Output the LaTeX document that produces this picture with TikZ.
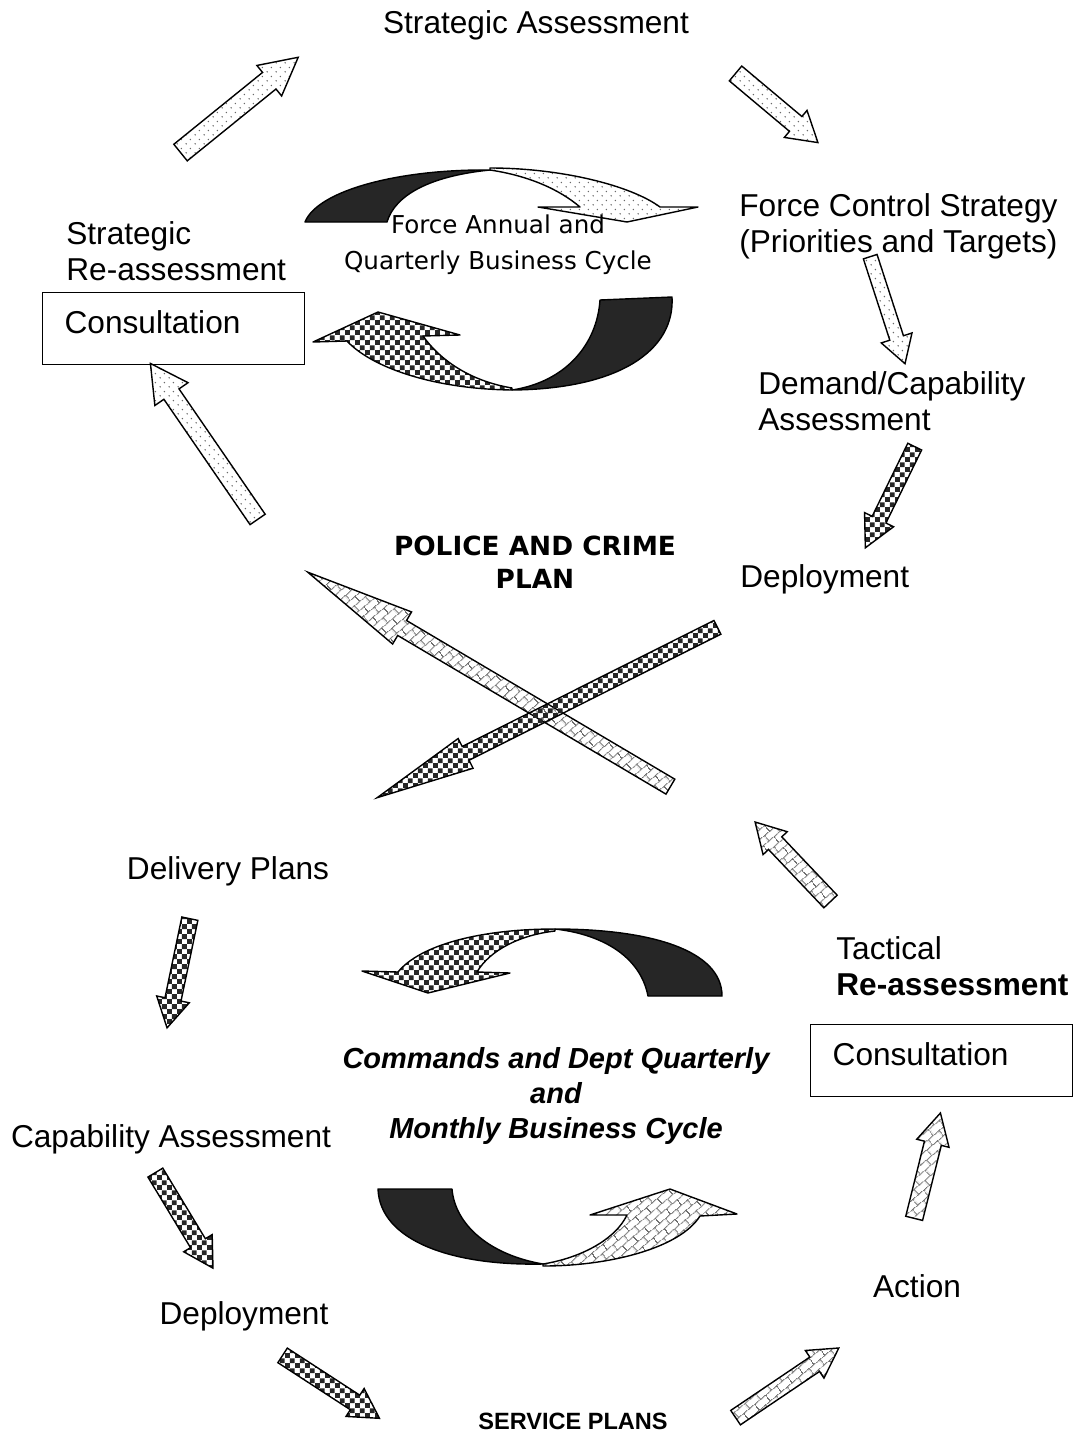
\documentclass[tikz,border=0pt]{standalone}
\usepackage{fontspec}
\setmainfont{Liberation Sans}
\newfontfamily\cyclefont{DejaVu Sans}
\usetikzlibrary{shapes.arrows,patterns.meta}

\definecolor{shade}{HTML}{262626}
\definecolor{dotgray}{HTML}{6A6A6A}
\definecolor{brickgray}{HTML}{707070}

\tikzdeclarepattern{
  name=sprinkle,
  type=uncolored,
  bottom left={(0pt,0pt)},
  top right={(5pt,5pt)},
  tile size={(5pt,5pt)},
  code={
    \fill (1.25pt,1.25pt) circle (0.45pt);
    \fill (3.75pt,3.75pt) circle (0.45pt);
  }
}
\tikzdeclarepattern{
  name=checker,
  type=uncolored,
  bottom left={(0pt,0pt)},
  top right={(5.6pt,5.6pt)},
  tile size={(5.6pt,5.6pt)},
  code={
    \fill (0pt,0pt) rectangle (2.8pt,2.8pt);
    \fill (2.8pt,2.8pt) rectangle (5.6pt,5.6pt);
  }
}
\tikzdeclarepattern{
  name=brickwall,
  type=uncolored,
  bottom left={(0pt,0pt)},
  top right={(8pt,8pt)},
  tile size={(8pt,8pt)},
  tile transformation={rotate=40},
  code={
    \draw[line width=0.55pt] (0pt,1pt) -- (8pt,1pt) (0pt,5pt) -- (8pt,5pt)
      (1pt,1pt) -- (1pt,5pt) (5pt,5pt) -- (5pt,8pt) (5pt,0pt) -- (5pt,1pt);
  }
}

\tikzset{
  txt/.style={font=\fontsize{18}{20.5}\selectfont, inner sep=0pt, align=left},
  cycletxt/.style={font=\cyclefont\fontsize{14}{20.4}\selectfont, inner sep=0pt, align=center},
  plantxt/.style={font=\cyclefont\bfseries\fontsize{15}{18.7}\selectfont, inner sep=0pt, align=center},
  cmdtxt/.style={font=\bfseries\itshape\fontsize{16.5}{19.8}\selectfont, inner sep=0pt, align=center},
  servtxt/.style={font=\bfseries\fontsize{13.4}{15}\selectfont, inner sep=0pt},
  consbox/.style={draw, line width=0.8pt, anchor=north west, font=\fontsize{18}{20.5}\selectfont,
    minimum width=149.1pt, minimum height=41pt, text width=124.1pt, inner xsep=12.5pt,
    inner ysep=0pt, text depth=7.4pt, align=left},
  blockarrow/.style n args={5}{single arrow, draw, line width=0.8pt, inner xsep=0pt,
    inner ysep=#3*0.2835pt, anchor=tail, rotate=#1, minimum height=#2*0.5669pt,
    single arrow head extend=(#4-#3)/2*0.5669pt, single arrow tip angle=#5},
  band/.style={draw, line width=0.8pt, line join=round},
  dark/.style={band, fill=shade},
}

\begin{document}
\begin{tikzpicture}[x=0.02cm, y=-0.02cm]
  \useasboundingbox (0,0) rectangle (1077,1437);

  % Upper cycle: strategic level
  \node[txt] (stratass) at (536,25) {Strategic Assessment};
  \node[txt, anchor=west] (stratre) at (66,251) {Strategic\\Re-assessment};
  \node[consbox] (consult1) at (42,292) {Consultation};
  \node[txt, anchor=west] (fcs) at (739,226) {Force Control Strategy\\(Priorities and Targets)};
  \node[txt, anchor=west] (demand) at (758,401) {Demand/Capability\\Assessment};
  \node[txt, anchor=west] (deploy1) at (740,579) {Deployment};
  \node[plantxt] (pcp) at (535,562) {POLICE AND CRIME\\PLAN};

  \node[blockarrow={39}{152}{20}{38}{55.6}, pattern=sprinkle, pattern color=dotgray] (up1) at (180,153) {};
  \node[blockarrow={-40}{108}{18}{34}{62.5}, pattern=sprinkle, pattern color=dotgray] (up2) at (735,73) {};
  \node[blockarrow={-72}{113}{13}{31}{61.6}, pattern=sprinkle, pattern color=dotgray] (up3) at (870,256) {};
  \node[blockarrow={-116}{113}{14}{31}{54.6}, pattern=checker, pattern color=shade] (up4) at (915,446) {};
  \node[blockarrow={124.5}{190}{17}{39}{56.9}, pattern=sprinkle, pattern color=dotgray] (up5) at (258,520) {};

  % Force annual cycle (curved arrows)
  \path[dark] (305,222) -- (387,222) .. controls (395,195) and (430,176) .. (490,170)
    .. controls (400,169) and (318,190) .. (305,222) -- cycle;
  \path[band, pattern=sprinkle, pattern color=dotgray] (490,168) .. controls (560,168) and (630,185) .. (660,207)
    -- (698,207) -- (627,222) -- (538,207) -- (580,207)
    .. controls (560,190) and (530,176) .. (490,170) -- cycle;
  \path[dark] (600,300) -- (672,297) .. controls (675,350) and (620,389) .. (512,390)
    .. controls (565,382) and (597,345) .. (600,300) -- cycle;
  \path[band, pattern=checker, pattern color=shade] (512,390) .. controls (430,389) and (370,366) .. (347,341)
    -- (313,342) -- (378,312) -- (460,335) -- (423,336)
    .. controls (440,360) and (470,381) .. (512,388) -- cycle;
  \node[cycletxt] (forcecycle) at (498,245) {Force Annual and\\Quarterly Business Cycle};

  % Crossing arrows between the two cycles
  \node[blockarrow={149.4}{423}{16}{36}{19.3}, pattern=brickwall, pattern color=brickgray] (cross1) at (671,787) {};
  \node[blockarrow={-153.4}{382}{14}{32}{19.1}, pattern=checker, pattern color=shade] (cross2) at (718,627) {};

  % Lower cycle: commands and departments
  \node[txt] (delivery) at (228,871) {Delivery Plans};
  \node[txt] (capass) at (171,1139) {Capability Assessment};
  \node[txt] (deploy2) at (244,1316) {Deployment};
  \node[servtxt] (service) at (573,1421) {SERVICE PLANS};
  \node[txt] (action) at (917,1286) {Action};
  \node[txt, anchor=west] (tactical) at (836,966) {Tactical\\\textbf{Re-assessment}};
  \node[consbox] (consult2) at (810,1024) {Consultation};
  \node[cmdtxt] (cmdcycle) at (556,1096) {Commands and Dept Quarterly\\and\\Monthly Business Cycle};

  \node[blockarrow={133.5}{110}{17}{32}{59.5}, pattern=brickwall, pattern color=brickgray] (lo1) at (831,902) {};
  \node[blockarrow={76}{109}{16}{32}{56.1}, pattern=brickwall, pattern color=brickgray] (lo2) at (914,1219) {};
  \node[blockarrow={-101.8}{112}{15}{32}{59.5}, pattern=checker, pattern color=shade] (lo3) at (190,918) {};
  \node[blockarrow={-58.9}{112}{16}{32}{59.5}, pattern=checker, pattern color=shade] (lo4) at (155,1172) {};
  \node[blockarrow={-33}{116}{16}{32}{59.5}, pattern=checker, pattern color=shade] (lo5) at (282,1355) {};
  \node[blockarrow={34}{125}{16}{32}{59.5}, pattern=brickwall, pattern color=brickgray] (lo6) at (735,1418) {};

  % Commands cycle (curved arrows)
  \path[dark] (648,996) -- (722,996) .. controls (722,950) and (650,929) .. (555,929)
    .. controls (600,934) and (640,955) .. (648,996) -- cycle;
  \path[band, pattern=checker, pattern color=shade] (555,929) .. controls (480,929) and (420,945) .. (398,972)
    -- (362,971) -- (428,993) -- (510,973) -- (477,972)
    .. controls (490,950) and (520,935) .. (555,931) -- cycle;
  \path[dark] (378,1189) -- (452,1189) .. controls (455,1225) and (490,1255) .. (543,1264)
    .. controls (450,1266) and (380,1240) .. (378,1189) -- cycle;
  \path[band, pattern=brickwall, pattern color=brickgray] (543,1266) .. controls (610,1266) and (680,1248) .. (700,1216)
    -- (737,1214) -- (670,1189) -- (590,1215) -- (627,1215)
    .. controls (615,1240) and (580,1258) .. (543,1264) -- cycle;
\end{tikzpicture}
\end{document}
